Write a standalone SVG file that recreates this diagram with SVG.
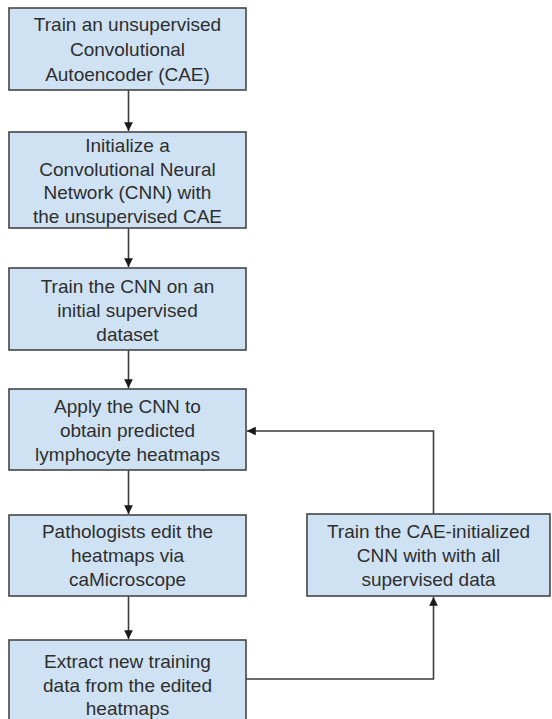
<svg xmlns="http://www.w3.org/2000/svg" width="552" height="719" viewBox="0 0 552 719">
  <style>
    .box { fill: #cfe2f3; stroke: #454545; stroke-width: 1.6; }
    .lbl { font-family: "Liberation Sans", Arial, sans-serif; font-size: 19px; fill: #2e2e2e; text-anchor: middle; }
    .wire { fill: none; stroke: #3c3c3c; stroke-width: 1.6; }
  </style>
  <defs>
    <marker id="arrow" viewBox="0 0 10 10" refX="10" refY="5" markerWidth="5.5" markerHeight="5.5" orient="auto" markerUnits="strokeWidth">
      <path d="M0,0 L10,5 L0,10 Z" fill="#1a1a1a"/>
    </marker>
  </defs>

  <rect width="552" height="719" fill="#ffffff"/>

  <g id="connectors">
    <line class="wire" x1="128.5" y1="90" x2="128.5" y2="131" marker-end="url(#arrow)"/>
    <line class="wire" x1="128.5" y1="228" x2="128.5" y2="267" marker-end="url(#arrow)"/>
    <line class="wire" x1="128.5" y1="350" x2="128.5" y2="388" marker-end="url(#arrow)"/>
    <line class="wire" x1="128.5" y1="470" x2="128.5" y2="514" marker-end="url(#arrow)"/>
    <line class="wire" x1="128.5" y1="596" x2="128.5" y2="639" marker-end="url(#arrow)"/>
    <polyline class="wire" points="246,679 433.5,679 433.5,597" marker-end="url(#arrow)"/>
    <polyline class="wire" points="433.5,514 433.5,431 247,431" marker-end="url(#arrow)"/>
  </g>

  <g id="train-cae">
    <rect class="box" x="9" y="8" width="237" height="82"/>
    <text class="lbl" x="127.5" y="31">Train an unsupervised</text>
    <text class="lbl" x="127.5" y="56">Convolutional</text>
    <text class="lbl" x="127.5" y="81">Autoencoder (CAE)</text>
  </g>

  <g id="init-cnn">
    <rect class="box" x="9" y="132" width="237" height="96"/>
    <text class="lbl" x="127.5" y="152">Initialize a</text>
    <text class="lbl" x="127.5" y="175.5">Convolutional Neural</text>
    <text class="lbl" x="127.5" y="199">Network (CNN) with</text>
    <text class="lbl" x="127.5" y="222.5">the unsupervised CAE</text>
  </g>

  <g id="train-cnn">
    <rect class="box" x="9" y="268" width="237" height="82"/>
    <text class="lbl" x="127.5" y="293">Train the CNN on an</text>
    <text class="lbl" x="127.5" y="317">initial supervised</text>
    <text class="lbl" x="127.5" y="341">dataset</text>
  </g>

  <g id="apply-cnn">
    <rect class="box" x="9" y="389" width="237" height="81"/>
    <text class="lbl" x="127.5" y="413">Apply the CNN to</text>
    <text class="lbl" x="127.5" y="437">obtain predicted</text>
    <text class="lbl" x="127.5" y="461">lymphocyte heatmaps</text>
  </g>

  <g id="edit-heatmaps">
    <rect class="box" x="9" y="515" width="237" height="81"/>
    <text class="lbl" x="127.5" y="538">Pathologists edit the</text>
    <text class="lbl" x="127.5" y="562">heatmaps via</text>
    <text class="lbl" x="127.5" y="586">caMicroscope</text>
  </g>

  <g id="extract-data">
    <rect class="box" x="9" y="640" width="237" height="90"/>
    <text class="lbl" x="127.5" y="668">Extract new training</text>
    <text class="lbl" x="127.5" y="692">data from the edited</text>
    <text class="lbl" x="127.5" y="715">heatmaps</text>
  </g>

  <g id="retrain-cnn">
    <rect class="box" x="307" y="514" width="243" height="82"/>
    <text class="lbl" x="428.5" y="538">Train the CAE-initialized</text>
    <text class="lbl" x="428.5" y="562">CNN with with all</text>
    <text class="lbl" x="428.5" y="586">supervised data</text>
  </g>
</svg>
